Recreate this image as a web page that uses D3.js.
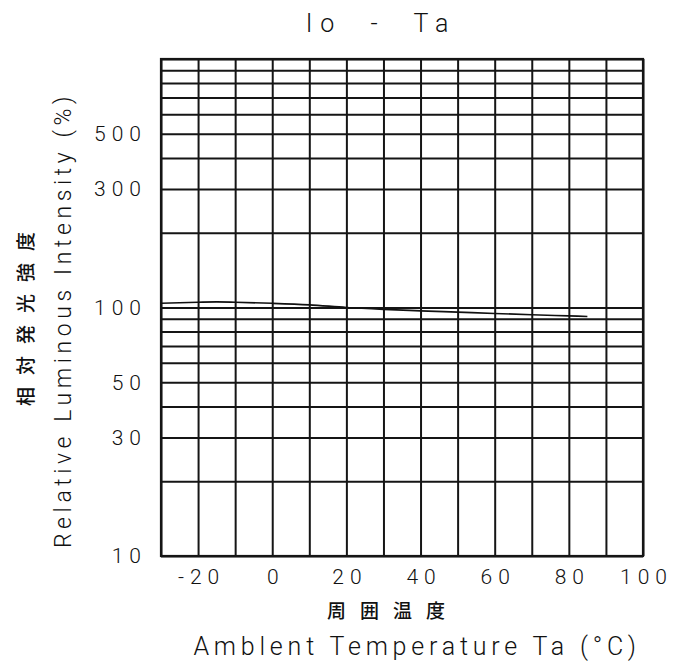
<!DOCTYPE html>
<html lang='ja'>
<head>
  <meta charset='UTF-8'>
  <title>Io - Ta</title>
  <script src='https://d3js.org/d3.v7.min.js'></script>
  <style>
    body { margin: 0; background: #fff; }
    svg text { font-family: Roboto, 'DejaVu Sans', sans-serif; font-weight: 300; fill: #111; }
    .jp { font-family: 'Noto Sans CJK JP', sans-serif; font-weight: 700; }
  </style>
</head>
<body>
  <svg width='683' height='665'></svg>

  <script>
    // data
    var temps = [-30, -20, -15, -10, 0, 10, 20, 30, 40, 50, 60, 70, 80, 85];
    var intensity = [104, 105, 105.3, 105, 104, 102.5, 100, 98.3, 97, 95.8, 94.6, 93.5, 92.5, 92];
    var xTickLabels = [-20, 0, 20, 40, 60, 80, 100];
    var yTickLabels = [10, 30, 50, 100, 300, 500];
    var xGrid = d3.range(-30, 101, 10);
    var yGrid = d3.range(10, 100, 10).concat(d3.range(100, 1001, 100));

    var svg = d3.select('svg'),
      margin = {top: 59, right: 40, bottom: 109, left: 161},
      width = +svg.attr('width') - margin.left - margin.right,
      height = +svg.attr('height') - margin.top - margin.bottom,
      g = svg.append('g').attr('transform', 'translate(' + margin.left + ',' + margin.top + ')');

    var x = d3.scaleLinear().domain([-30, 100]).range([0, width]);
    var y = d3.scaleLog().domain([10, 1000]).range([height, 0]);

    // grid
    g.append('g')
      .attr('class', 'grid')
      .attr('transform', 'translate(0,' + height + ')')
      .call(d3.axisBottom(x).tickValues(xGrid).tickSize(-height).tickFormat(''))
      .call(s => s.select('.domain').remove());
    g.append('g')
      .attr('class', 'grid')
      .call(d3.axisLeft(y).tickValues(yGrid).tickSize(-width).tickFormat(''))
      .call(s => s.select('.domain').remove());
    g.selectAll('.grid line')
      .attr('stroke', '#151515')
      .attr('stroke-width', 2);

    g.append('rect')
      .attr('width', width)
      .attr('height', height)
      .attr('fill', 'none')
      .attr('stroke', '#151515')
      .attr('stroke-width', 2.2);

    // tick labels
    var xl = g.append('g')
      .attr('transform', 'translate(0,' + height + ')')
      .call(d3.axisBottom(x).tickValues(xTickLabels).tickSize(0).tickPadding(13)
        .tickFormat(d => d < 0 ? '-' + Math.abs(d) : d));
    xl.select('.domain').remove();
    xl.selectAll('text')
      .attr('font-size', 21)
      .attr('letter-spacing', 6)
      .attr('dx', 3)
      .style('font-family', 'Roboto, sans-serif')
      .style('font-weight', 300);

    var yl = g.append('g')
      .call(d3.axisLeft(y).tickValues(yTickLabels).tickSize(0).tickPadding(20)
        .tickFormat(d => d));
    yl.select('.domain').remove();
    yl.selectAll('text')
      .attr('font-size', 21)
      .attr('letter-spacing', 6)
      .attr('dx', 6)
      .style('font-family', 'Roboto, sans-serif')
      .style('font-weight', 300);

    // curve
    var line = d3.line()
      .x((d, i) => x(temps[i]))
      .y(d => y(d))
      .curve(d3.curveMonotoneX);
    g.append('path')
      .datum(intensity)
      .attr('fill', 'none')
      .attr('stroke', '#111')
      .attr('stroke-width', 1.7)
      .attr('d', line);

    // titles
    svg.append('text')
      .attr('x', 381).attr('y', 32)
      .attr('text-anchor', 'middle')
      .attr('font-size', 25)
      .attr('letter-spacing', 8)
      .attr('xml:space', 'preserve')
      .text('Io  -  Ta');

    svg.append('text')
      .attr('transform', 'translate(71,320) rotate(-90)')
      .attr('text-anchor', 'middle')
      .attr('font-size', 23)
      .attr('letter-spacing', 4.6)
      .text('Relative Luminous Intensity (%)');

    svg.append('text')
      .attr('class', 'jp')
      .attr('transform', 'translate(33,313) rotate(-90)')
      .attr('text-anchor', 'middle')
      .attr('font-size', 19)
      .attr('letter-spacing', 12)
      .style('font-weight', 500)
      .text('相対発光強度');

    svg.append('text')
      .attr('class', 'jp')
      .attr('x', 393).attr('y', 618)
      .attr('text-anchor', 'middle')
      .attr('font-size', 19)
      .attr('letter-spacing', 14)
      .style('font-weight', 500)
      .text('周囲温度');

    svg.append('text')
      .attr('x', 417).attr('y', 655)
      .attr('text-anchor', 'middle')
      .attr('font-size', 25)
      .attr('letter-spacing', 4.8)
      .attr('xml:space', 'preserve')
      .text('Amblent Temperature Ta (°C)');
  </script>
</body>
</html>
